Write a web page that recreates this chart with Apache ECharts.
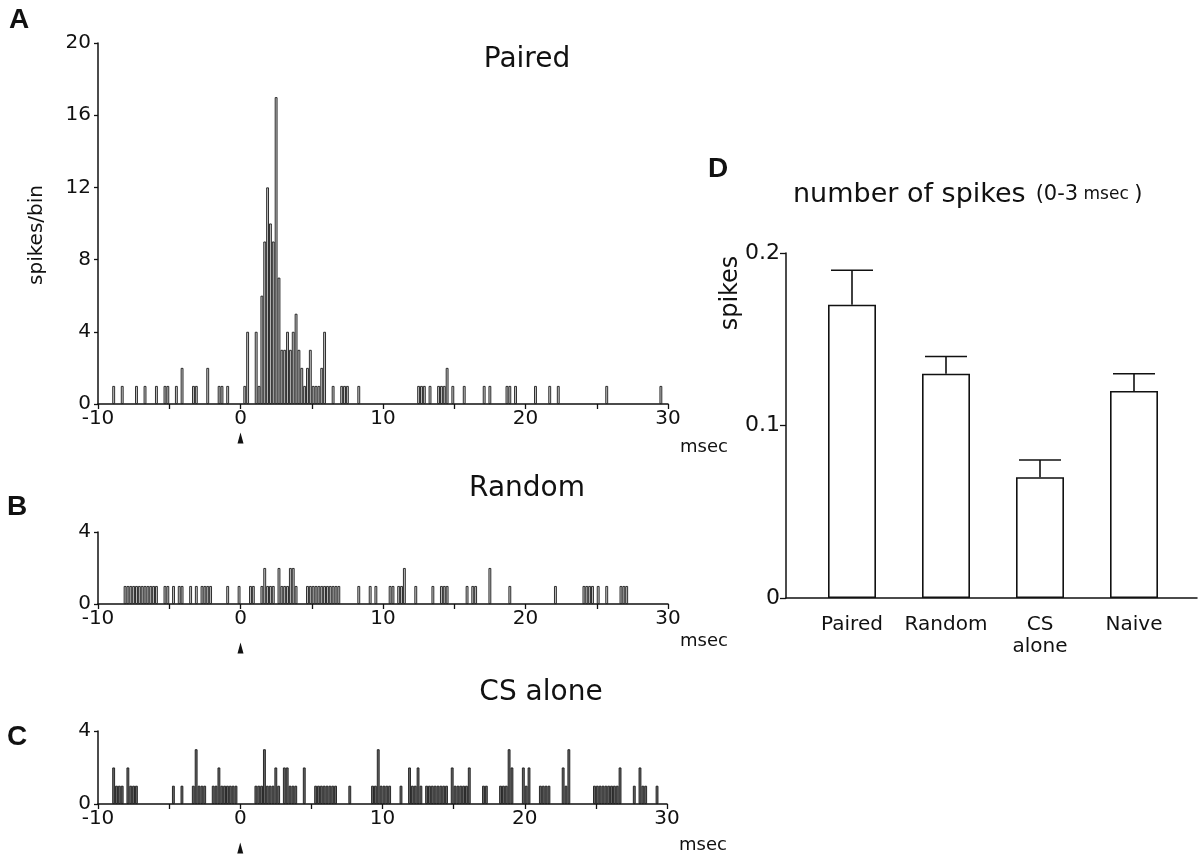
<!DOCTYPE html>
<html>
<head>
<meta charset="utf-8">
<title>Spike histograms</title>
<script src="https://cdn.jsdelivr.net/npm/echarts@6/dist/echarts.min.js"></script>
<style>
  html, body { margin: 0; padding: 0; background: #fff; }
  #chart { width: 1200px; height: 856px; }
</style>
</head>
<body>
<div id="chart"></div>
<script>
// Peri-stimulus histograms, 0.2 ms bins (bin centres in msec, counts per bin)
const pairedTimes = [-8.9, -8.3, -7.3, -6.7, -5.9, -5.3, -5.1, -4.5, -4.1, -3.3, -3.1, -2.3, -1.5, -1.3, -0.9,
  0.3, 0.5, 1.1, 1.3, 1.5, 1.7, 1.9, 2.1, 2.3, 2.5, 2.7, 2.9, 3.1, 3.3, 3.5, 3.7, 3.9, 4.1, 4.3, 4.5, 4.7, 4.9,
  5.1, 5.3, 5.5, 5.7, 5.9, 6.5, 7.1, 7.3, 7.5, 8.3,
  12.5, 12.7, 12.9, 13.3, 13.9, 14.1, 14.3, 14.5, 14.9, 15.7, 17.1, 17.5, 18.7, 18.9, 19.3, 20.7, 21.7, 22.3, 25.7, 29.5];
const pairedCounts = [1, 1, 1, 1, 1, 1, 1, 1, 2, 1, 1, 2, 1, 1, 1,
  1, 4, 4, 1, 6, 9, 12, 10, 9, 17, 7, 3, 3, 4, 3, 4, 5, 3, 2, 1, 2, 3,
  1, 1, 1, 2, 4, 1, 1, 1, 1, 1,
  1, 1, 1, 1, 1, 1, 1, 2, 1, 1, 1, 1, 1, 1, 1, 1, 1, 1, 1, 1];

const randomTimes = [-8.1, -7.9, -7.7, -7.5, -7.3, -7.1, -6.9, -6.7, -6.5, -6.3, -6.1, -5.9,
  -5.3, -5.1, -4.7, -4.3, -4.1, -3.5, -3.1, -2.7, -2.5, -2.3, -2.1, -0.9, -0.1,
  0.7, 0.9, 1.5, 1.7, 1.9, 2.1, 2.3, 2.7, 2.9, 3.1, 3.3, 3.5, 3.7, 3.9,
  4.7, 4.9, 5.1, 5.3, 5.5, 5.7, 5.9, 6.1, 6.3, 6.5, 6.7, 6.9, 8.3, 9.1, 9.5,
  10.5, 10.7, 11.1, 11.3, 11.5, 12.3, 13.5, 14.1, 14.3, 14.5, 15.9, 16.3, 16.5, 17.5, 18.9, 22.1,
  24.1, 24.3, 24.5, 24.7, 25.1, 25.7, 26.7, 26.9, 27.1];
const randomCounts = [1, 1, 1, 1, 1, 1, 1, 1, 1, 1, 1, 1,
  1, 1, 1, 1, 1, 1, 1, 1, 1, 1, 1, 1, 1,
  1, 1, 1, 2, 1, 1, 1, 2, 1, 1, 1, 2, 2, 1,
  1, 1, 1, 1, 1, 1, 1, 1, 1, 1, 1, 1, 1, 1, 1,
  1, 1, 1, 1, 2, 1, 1, 1, 1, 1, 1, 1, 1, 2, 1, 1,
  1, 1, 1, 1, 1, 1, 1, 1, 1];

const csTimes = [-8.9, -8.7, -8.5, -8.3, -7.9, -7.7, -7.5, -7.3,
  -4.7, -4.1, -3.3, -3.1, -2.9, -2.7, -2.5,
  -1.9, -1.7, -1.5, -1.3, -1.1, -0.9, -0.7, -0.5, -0.3,
  1.1, 1.3, 1.5, 1.7, 1.9, 2.1, 2.3, 2.5, 2.7, 3.1, 3.3, 3.5, 3.7, 3.9, 4.5,
  5.3, 5.5, 5.7, 5.9, 6.1, 6.3, 6.5, 6.7, 7.7,
  9.3, 9.5, 9.7, 9.9, 10.1, 10.3, 10.5, 11.3, 11.9, 12.1, 12.3, 12.5, 12.7,
  13.1, 13.3, 13.5, 13.7, 13.9, 14.1, 14.3, 14.5, 14.9,
  15.1, 15.3, 15.5, 15.7, 15.9, 16.1, 17.1, 17.3, 18.3, 18.5, 18.7, 18.9, 19.1,
  19.9, 20.1, 20.3, 21.1, 21.3, 21.5, 21.7, 22.7, 22.9, 23.1,
  24.9, 25.1, 25.3, 25.5, 25.7, 25.9, 26.1, 26.3, 26.5, 26.7, 27.7, 28.1, 28.3, 28.5, 29.3];
const csCounts = [2, 1, 1, 1, 2, 1, 1, 1,
  1, 1, 1, 3, 1, 1, 1,
  1, 1, 2, 1, 1, 1, 1, 1, 1,
  1, 1, 1, 3, 1, 1, 1, 2, 1, 2, 2, 1, 1, 1, 2,
  1, 1, 1, 1, 1, 1, 1, 1, 1,
  1, 1, 3, 1, 1, 1, 1, 1, 2, 1, 1, 2, 1,
  1, 1, 1, 1, 1, 1, 1, 1, 2,
  1, 1, 1, 1, 1, 2, 1, 1, 1, 1, 1, 3, 2,
  2, 1, 2, 1, 1, 1, 1, 2, 1, 3,
  1, 1, 1, 1, 1, 1, 1, 1, 1, 2, 1, 2, 1, 1, 1];

// Panel D: mean spikes in the 0-3 msec window, with upper error bars
const dCategories = ['Paired', 'Random', 'CS\nalone', 'Naive'];
const dMeans = [0.17, 0.13, 0.07, 0.12];
const dErrors = [0.02, 0.01, 0.01, 0.01];

// Axis ticks
const msecTicks = [-10, 0, 10, 20, 30];
const pairedYTicks = [0, 4, 8, 12, 16, 20];
const smallYTicks = [0, 4];
const dYTicks = [0, 0.1, 0.2];

const FONT = '"DejaVu Sans", "Noto Sans", sans-serif';
const INK = '#111';

function zip(t, c) { return t.map((x, i) => [x, c[i]]); }

function msecAxis(gridIndex, nameTop) {
  return {
    gridIndex, type: 'value',
    min: msecTicks[0], max: msecTicks[msecTicks.length - 1], interval: 5,
    axisLine: { onZero: false, lineStyle: { color: INK, width: 1.5 } },
    axisTick: { length: 5, lineStyle: { color: INK, width: 1.3 } },
    axisLabel: {
      color: INK, fontFamily: FONT, fontSize: 20, margin: 5,
      formatter: v => (msecTicks.indexOf(v) >= 0 ? String(v) : '')
    },
    splitLine: { show: false },
    name: 'msec', nameLocation: 'end', nameGap: 12,
    nameTextStyle: { color: INK, fontFamily: FONT, fontSize: 18, align: 'left', verticalAlign: 'top', padding: [nameTop, 0, 0, 0] }
  };
}

function countAxis(gridIndex, ticks) {
  return {
    gridIndex, type: 'value',
    min: ticks[0], max: ticks[ticks.length - 1], interval: ticks[1] - ticks[0],
    axisLine: { show: true, onZero: false, lineStyle: { color: INK, width: 1.5 } },
    axisTick: { show: true, length: 4, lineStyle: { color: INK, width: 1.3 } },
    axisLabel: { color: INK, fontFamily: FONT, fontSize: 20, margin: 7 },
    splitLine: { show: false }
  };
}

function histSeries(idx, times, counts, fill, arrowOffset) {
  return {
    type: 'bar', xAxisIndex: idx, yAxisIndex: idx,
    data: zip(times, counts),
    barWidth: 2.8,
    itemStyle: { color: fill, borderColor: '#1a1a1a', borderWidth: 0.9 },
    markPoint: {
      symbol: 'triangle', symbolSize: [6, 11], symbolOffset: [0, arrowOffset],
      itemStyle: { color: INK }, label: { show: false }, silent: true,
      data: [{ coord: [0, 0] }]
    }
  };
}

const chart = echarts.init(document.getElementById('chart'), null, { renderer: 'canvas' });

chart.setOption({
  animation: false,
  backgroundColor: '#fff',
  textStyle: { fontFamily: FONT },
  grid: [
    { left: 98, top: 43, width: 570, height: 361 },
    { left: 98, top: 532, width: 570, height: 72 },
    { left: 98, top: 731, width: 569, height: 73 },
    { left: 805, top: 253, width: 376, height: 345 },
    { left: 786, top: 253, width: 411, height: 345 }
  ],
  xAxis: [
    msecAxis(0, 34),
    msecAxis(1, 28),
    msecAxis(2, 32),
    {
      gridIndex: 3, type: 'category', data: dCategories,
      axisLine: { show: false }, axisTick: { show: false },
      axisLabel: { interval: 0, color: INK, fontFamily: FONT, fontSize: 20, margin: 16, lineHeight: 22 }
    },
    {
      gridIndex: 4, type: 'value', min: 0, max: 1,
      axisLine: { lineStyle: { color: INK, width: 1.5 } },
      axisTick: { show: false }, axisLabel: { show: false }, splitLine: { show: false }
    }
  ],
  yAxis: [
    countAxis(0, pairedYTicks),
    countAxis(1, smallYTicks),
    countAxis(2, smallYTicks),
    {
      gridIndex: 3, type: 'value', offset: 19,
      min: dYTicks[0], max: dYTicks[dYTicks.length - 1], interval: 0.1,
      axisLine: { show: true, onZero: false, lineStyle: { color: INK, width: 1.5 } },
      axisTick: { show: true, length: 6, lineStyle: { color: INK, width: 1.3 } },
      axisLabel: { color: INK, fontFamily: FONT, fontSize: 22, margin: 6 },
      splitLine: { show: false }
    },
    { gridIndex: 4, type: 'value', show: false }
  ],
  series: [
    histSeries(0, pairedTimes, pairedCounts, '#c8c8c8', 34),
    histSeries(1, randomTimes, randomCounts, '#c8c8c8', 44),
    histSeries(2, csTimes, csCounts, '#6a6a6a', 44),
    {
      type: 'bar', xAxisIndex: 3, yAxisIndex: 3,
      data: dMeans, barWidth: 48,
      itemStyle: { color: '#fff', borderColor: INK, borderWidth: 1.6 }
    },
    {
      type: 'custom', xAxisIndex: 3, yAxisIndex: 3,
      data: dMeans.map((m, i) => [i, m, dErrors[i]]),
      encode: { x: 0, y: 1 },
      renderItem: function (params, api) {
        const i = api.value(0), m = api.value(1), e = api.value(2);
        const top = api.coord([i, m + e]);
        const base = api.coord([i, m]);
        const half = 21;
        const st = { stroke: INK, lineWidth: 1.6 };
        return {
          type: 'group',
          children: [
            { type: 'line', shape: { x1: top[0], y1: top[1], x2: base[0], y2: base[1] }, style: st },
            { type: 'line', shape: { x1: top[0] - half, y1: top[1], x2: top[0] + half, y2: top[1] }, style: st }
          ]
        };
      }
    }
  ],
  graphic: [
    { type: 'text', left: 9, top: 6, style: { text: 'A', font: 'bold 28px "Liberation Sans", Arial, sans-serif', fill: INK } },
    { type: 'text', left: 7, top: 493, style: { text: 'B', font: 'bold 28px "Liberation Sans", Arial, sans-serif', fill: INK } },
    { type: 'text', left: 7, top: 723, style: { text: 'C', font: 'bold 28px "Liberation Sans", Arial, sans-serif', fill: INK } },
    { type: 'text', left: 708, top: 155, style: { text: 'D', font: 'bold 28px "Liberation Sans", Arial, sans-serif', fill: INK } },
    { type: 'text', x: 527, y: 60, style: { text: 'Paired', font: '28px ' + FONT, fill: INK, align: 'center', verticalAlign: 'middle' } },
    { type: 'text', x: 527, y: 489, style: { text: 'Random', font: '28px ' + FONT, fill: INK, align: 'center', verticalAlign: 'middle' } },
    { type: 'text', x: 541, y: 693, style: { text: 'CS alone', font: '28px ' + FONT, fill: INK, align: 'center', verticalAlign: 'middle' } },
    {
      type: 'text', x: 793, y: 195,
      style: {
        text: '{a|number of spikes}   {b|(0-3}{c| msec }{b|)}',
        verticalAlign: 'middle', fill: INK,
        rich: {
          a: { fontFamily: FONT, fontSize: 27, fill: INK },
          b: { fontFamily: FONT, fontSize: 21, fill: INK },
          c: { fontFamily: FONT, fontSize: 17, fill: INK }
        }
      }
    },
    { type: 'text', x: 37, y: 235, rotation: Math.PI / 2, style: { text: 'spikes/bin', font: '20px ' + FONT, fill: INK, align: 'center', verticalAlign: 'middle' } },
    { type: 'text', x: 731, y: 293, rotation: Math.PI / 2, style: { text: 'spikes', font: '24px ' + FONT, fill: INK, align: 'center', verticalAlign: 'middle' } }
  ]
});
</script>
</body>
</html>
